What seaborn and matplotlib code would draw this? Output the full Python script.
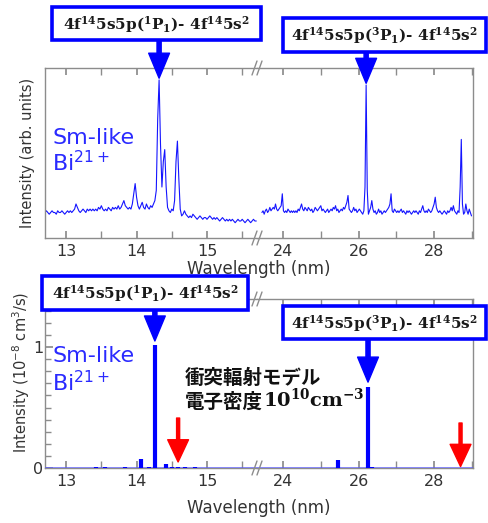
import numpy as np
import pandas as pd
import matplotlib
matplotlib.use("Agg")
import matplotlib.pyplot as plt
from matplotlib.lines import Line2D
from matplotlib.patches import Rectangle
from matplotlib.text import Annotation
from matplotlib.ticker import MultipleLocator, NullLocator
import seaborn as sns

# ---------------------------------------------------------------- data
# Measured EUV spectrum of Sm-like Bi21+ (arb. units), sampled on a uniform grid
short_start, short_step = 12.70, 0.02
short_counts = [
    15, 16, 15, 14, 15, 16, 15, 15, 14, 16,
    15, 15, 16, 15, 14, 15, 16, 15, 16, 15,
    16, 17, 20, 18, 16, 15, 16, 17, 16, 15,
    17, 16, 17, 16, 17, 16, 17, 16, 18, 17,
    19, 17, 16, 17, 16, 18, 17, 16, 18, 17,
    18, 17, 19, 17, 18, 20, 22, 19, 18, 17,
    18, 17, 20, 26, 32, 24, 19, 17, 19, 21,
    18, 17, 20, 18, 17, 19, 18, 20, 22, 28,
    70, 93, 55, 30, 45, 52, 30, 18, 16, 15,
    17, 16, 22, 45, 57, 35, 17, 13, 14, 16,
    14, 13, 12, 13, 12, 14, 13, 12, 11, 12,
    13, 12, 11, 12, 12, 11, 12, 13, 12, 11,
    12, 11, 12, 11, 10, 11, 12, 11, 10, 11,
    10, 11, 10, 11, 10, 9, 10, 11, 10, 10,
    11, 10, 9, 10, 11, 10, 9, 10, 11, 10, 10,
]
long_start, long_step = 23.44, 0.03
long_counts = [
    15, 16, 14, 16, 17, 15, 16, 18, 16, 17,
    18, 17, 20, 17, 16, 17, 18, 19, 26, 16,
    15, 16, 15, 17, 16, 15, 16, 15, 16, 15,
    16, 15, 17, 16, 18, 20, 17, 16, 18, 17,
    16, 18, 17, 16, 17, 15, 16, 18, 17, 16,
    17, 18, 19, 16, 17, 16, 15, 16, 17, 15,
    16, 17, 16, 18, 17, 19, 16, 17, 15, 16,
    17, 16, 18, 17, 19, 21, 25, 17, 16, 15,
    16, 18, 16, 17, 15, 16, 17, 16, 15, 14,
    16, 30, 90, 28, 14, 16, 18, 22, 17, 15,
    16, 14, 15, 17, 15, 16, 14, 15, 16, 15,
    16, 17, 18, 20, 26, 16, 15, 17, 16, 15,
    16, 15, 16, 17, 15, 16, 15, 14, 16, 15,
    16, 15, 14, 15, 16, 15, 16, 15, 14, 16,
    15, 17, 19, 16, 15, 16, 15, 17, 16, 15,
    16, 18, 20, 24, 18, 16, 15, 16, 15, 14,
    15, 16, 15, 14, 16, 15, 16, 18, 16, 19,
    16, 15, 14, 16, 15, 30, 58, 20, 14, 15,
    20, 16, 14, 17, 15, 13,
]

# Collisional-radiative model line intensities (1e-8 cm^3/s)
model_short_wl = [13.43, 13.55, 13.84, 14.07, 14.18, 14.26, 14.42, 14.50, 14.59, 14.69, 14.83, 15.33]
model_short_int = [0.012, 0.012, 0.010, 0.075, 0.008, 1.02, 0.035, 0.012, 0.008, 0.010, 0.006, 0.004]
model_long_wl = [23.90, 25.45, 26.25, 26.35, 27.10, 27.50]
model_long_int = [0.004, 0.065, 0.67, 0.010, 0.004, 0.004]

# lines observed but weak in the model
weak_lines_short = [14.59]
weak_lines_long = [28.70]

short_ticks = [13, 14, 15]
long_ticks = [24, 26, 28]
label_1p1 = r"$\mathbf{4f^{14}5s5p(^{1}P_{1})}$- $\mathbf{4f^{14}5s^{2}}$"
label_3p1 = r"$\mathbf{4f^{14}5s5p(^{3}P_{1})}$- $\mathbf{4f^{14}5s^{2}}$"
peak_1p1 = (14.32, 93)
peak_3p1 = (26.20, 90)

short_df = pd.DataFrame({
    "wl": np.round(short_start + short_step * np.arange(len(short_counts)), 3),
    "counts": short_counts,
})
long_df = pd.DataFrame({
    "wl": np.round(long_start + long_step * np.arange(len(long_counts)), 3),
    "counts": long_counts,
})

# ---------------------------------------------------------------- figure
sns.set_theme(style="ticks")
plt.rcParams["font.family"] = ["DejaVu Sans", "Noto Sans CJK JP"]

W, H = 488, 523
fig = plt.figure(figsize=(W / 100, H / 100), dpi=100)
fig.patch.set_facecolor("white")


def rect(x0, y0, x1, y1):
    return [x0 / W, 1 - y1 / H, (x1 - x0) / W, (y1 - y0) / H]


def ftext(x, y, s, **kw):
    return fig.text(x / W, 1 - y / H, s, **kw)


BLUE = "#0000ff"
LINE_BLUE = "#1414ff"
GRAY = "#8c8c8c"
TXT = "#333333"

top_l = fig.add_axes(rect(45, 68, 257, 238))
top_r = fig.add_axes(rect(257, 68, 473, 238))
bot_l = fig.add_axes(rect(45, 299, 257, 468))
bot_r = fig.add_axes(rect(257, 299, 473, 468))

for ax, side in [(top_l, "l"), (top_r, "r"), (bot_l, "l"), (bot_r, "r")]:
    ax.set_facecolor("white")
    for sp in ax.spines.values():
        sp.set_color(GRAY)
        sp.set_linewidth(1.0)
    if side == "l":
        ax.spines["right"].set_visible(False)
        ax.set_xlim(12.70, 15.71)
        ax.xaxis.set_minor_locator(MultipleLocator(0.5))
        ax.set_xticks(short_ticks)
    else:
        ax.spines["left"].set_visible(False)
        ax.set_xlim(23.31, 29.03)
        ax.xaxis.set_minor_locator(MultipleLocator(1))
        ax.set_xticks(long_ticks)
    ax.tick_params(axis="x", which="both", direction="in", top=True, bottom=True,
                   color=GRAY, labelcolor=TXT, labelsize=11.5, pad=4, length=5)

# spectrum
sns.lineplot(data=short_df, x="wl", y="counts", ax=top_l, color=LINE_BLUE, lw=0.8, sort=False)
sns.lineplot(data=long_df, x="wl", y="counts", ax=top_r, color=LINE_BLUE, lw=0.8, sort=False)
for ax in (top_l, top_r):
    ax.set_ylim(0, 100)
    ax.yaxis.set_major_locator(NullLocator())
    ax.set_xlabel("")
    ax.set_ylabel("")

# model stick spectrum
for ax, wl, val in [(bot_l, model_short_wl, model_short_int), (bot_r, model_long_wl, model_long_int)]:
    ax.axhline(0, color="#5a5aff", lw=1.2, alpha=0.8, zorder=3)
    ax.vlines(wl, 0, val, color=BLUE, lw=3.0, zorder=4)
    ax.set_ylim(0, 1.397)

bot_l.yaxis.set_major_locator(MultipleLocator(1))
bot_l.yaxis.set_minor_locator(MultipleLocator(0.1))
bot_l.tick_params(axis="y", which="both", direction="in", left=True, right=False,
                  color=GRAY, labelcolor=TXT, labelsize=11.5, pad=1)
bot_l.tick_params(axis="y", which="major", length=6)
bot_l.tick_params(axis="y", which="minor", length=4)
bot_r.yaxis.set_major_locator(NullLocator())

# weak lines (red arrows)
for ax, xs, y0, y1 in [(bot_l, weak_lines_short, 0.413, 0.05), (bot_r, weak_lines_long, 0.372, 0.012)]:
    for x in xs:
        ax.annotate("", xy=(x, y1), xytext=(x, y0), annotation_clip=False,
                    arrowprops=dict(color="#ff0000", width=2.2, headwidth=15,
                                    headlength=16, shrink=0))

# transition labels with arrows
box_specs = [
    # axis, text, box px (x0, y0, x1, y1), arrow x, arrow start y, arrow tip y
    (top_l, label_1p1, (52, 7, 261, 40), peak_1p1[0], 116.5, peak_1p1[1] + 1),
    (top_r, label_3p1, (283, 18, 486, 52), peak_3p1[0], 109.4, peak_3p1[1] + 1),
    (bot_l, label_1p1, (42, 276, 248, 310), model_short_wl[5], 1.306, 1.05),
    (bot_r, label_3p1, (283, 306, 486, 339), model_long_wl[2], 1.066, 0.71),
]
for ax, label, (x0, y0, x1, y1), ax_x, y_start, y_tip in box_specs:
    fig.add_artist(Rectangle((x0 / W, 1 - y1 / H), (x1 - x0) / W, (y1 - y0) / H,
                             transform=fig.transFigure, facecolor="white",
                             edgecolor=BLUE, lw=2.6, zorder=10))
    ftext((x0 + x1) / 2, (y0 + y1) / 2 + 1, label, ha="center", va="center",
          family="DejaVu Serif", weight="bold", fontsize=11, color="#1a1a1a",
          math_fontfamily="dejavuserif", zorder=11)
    ax.annotate("", xy=(ax_x, y_tip), xytext=(ax_x, y_start), annotation_clip=False,
                arrowprops=dict(color=BLUE, width=3.0, headwidth=15, headlength=18, shrink=0),
                zorder=9)

# ion labels
for y1, y2 in [(138, 163), (356, 383)]:
    ftext(52, y1, "Sm-like", ha="left", va="center", fontsize=16, color="#2a2aff")
    ftext(52, y2, "Bi$^{21+}$", ha="left", va="center", fontsize=16, color="#2a2aff")

# model description
ftext(185, 378, "衝突輻射モデル", ha="left", va="center", family="Noto Sans CJK JP",
      weight="bold", fontsize=14, color="#111111")
t2 = ftext(185, 402, "電子密度", ha="left", va="center", family="Noto Sans CJK JP",
           weight="bold", fontsize=14, color="#111111")
dens = Annotation(r"$\mathbf{10^{10}cm^{-3}}$", xy=(1.0, 0.62), xycoords=t2,
                  ha="left", va="center", fontsize=14, color="#111111",
                  math_fontfamily="dejavuserif")
dens.set_figure(fig)
fig.texts.append(dens)

# axis titles
ftext(28, 153, "Intensity (arb. units)", rotation=90, ha="center", va="center",
      fontsize=10.5, color=TXT)
ftext(21, 372, "Intensity (10$^{-8}$ cm$^3$/s)", rotation=90, ha="center", va="center",
      fontsize=10.5, color=TXT)
ftext(259, 269, "Wavelength (nm)", ha="center", va="center", fontsize=12, color=TXT)
ftext(259, 508, "Wavelength (nm)", ha="center", va="center", fontsize=12, color=TXT)

# axis break marks
for ys in (68, 238, 299, 468):
    for dx in (-2.5, 2.5):
        xc = 257 + dx
        fig.add_artist(Line2D([(xc - 2.5) / W, (xc + 2.5) / W],
                              [1 - (ys + 7) / H, 1 - (ys - 7) / H],
                              transform=fig.transFigure, color=GRAY, lw=1.0, zorder=12))

fig.savefig("out.png", dpi=100, facecolor="white")
